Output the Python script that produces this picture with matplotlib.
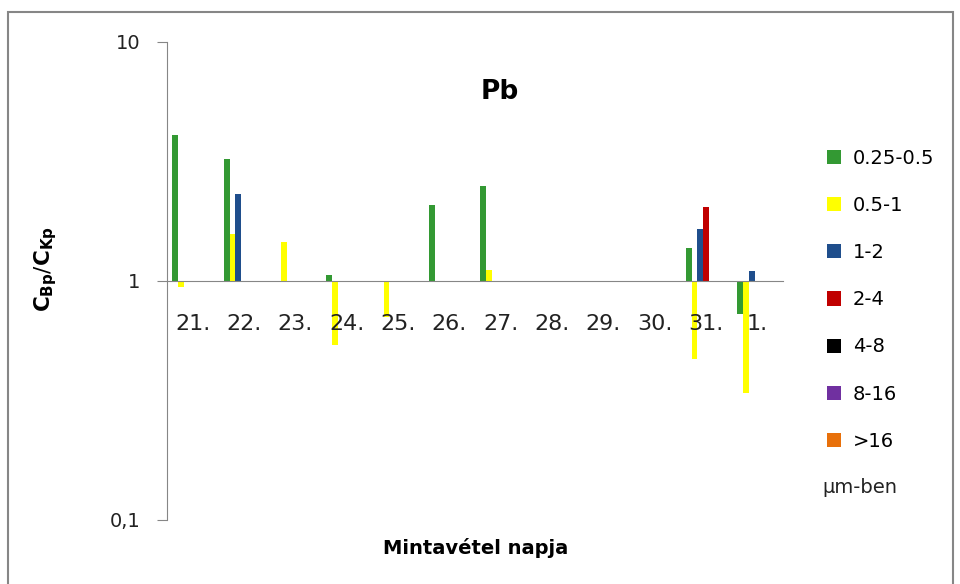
import numpy as np
import matplotlib.pyplot as plt
from matplotlib.patches import Rectangle

# adatok
napok = ['21.', '22.', '23.', '24.', '25.', '26.', '27.', '28.', '29.', '30.', '31.', '1.']
sorozatok = ['0.25-0.5', '0.5-1', '1-2', '2-4', '4-8', '8-16', '>16']
szinek = ['#339933', '#FFFF00', '#1F4E8C', '#C00000', '#000000', '#7030A0', '#E8700A']
nan = np.nan
zold = [4.08, 3.23, nan, 1.06, nan, 2.07, 2.50, nan, nan, nan, 1.37, 0.73]
sarga = [0.94, 1.57, 1.46, 0.54, 0.71, nan, 1.11, nan, nan, nan, 0.47, 0.34]
kek = [nan, 2.31, nan, nan, nan, nan, nan, nan, nan, nan, 1.65, 1.10]
piros = [nan, nan, nan, nan, nan, nan, nan, nan, nan, nan, 2.04, nan]
fekete = [nan] * 12
lila = [nan] * 12
narancs = [nan] * 12
ertekek = [zold, sarga, kek, piros, fekete, lila, narancs]

fig = plt.figure(figsize=(9.6, 5.84), dpi=100)
ax = fig.add_axes([0.174, 0.1096, 0.6417, 0.8185])

x = np.arange(len(napok))
w = 0.113
for j in range(len(sorozatok)):
    v = np.array(ertekek[j], dtype=float)
    ax.bar(x + (j - 3) * w, v - 1, bottom=1, width=w, color=szinek[j],
           label=sorozatok[j])

ax.spines['bottom'].set_position(('data', 1))
ax.spines['bottom'].set_color('#868686')
ax.spines['left'].set_color('#868686')
ax.spines['top'].set_visible(False)
ax.spines['right'].set_visible(False)

ax.set_yscale('log')
ax.set_ylim(0.1, 10)
ax.set_xlim(-0.5, len(napok) - 0.5)
ax.set_yticks([0.1, 1, 10])
ax.set_yticklabels(['0,1', '1', '10'])
ax.yaxis.set_minor_locator(plt.NullLocator())
ax.tick_params(axis='y', length=7, color='#868686', pad=12, labelsize=14,
               labelcolor='#222222')

ax.set_xticks(x)
ax.set_xticklabels(napok)
ax.tick_params(axis='x', length=0, pad=24, labelsize=16, labelcolor='#222222')

fig.text(500 / 960, 1 - 92 / 584, 'Pb', fontsize=19,
         fontweight='bold', ha='center', va='center')
fig.text(0.047, 0.54, r'$\mathbf{C}_{\mathbf{Bp}}/\mathbf{C}_{\mathbf{Kp}}$',
         rotation=90, fontsize=15.5, ha='center', va='center')
fig.text(0.495, 0.062, 'Mintavétel napja', fontsize=14, fontweight='bold',
         ha='center', va='center')

ax.legend(loc='upper left', bbox_to_anchor=(1.058, 0.793), frameon=False,
          fontsize=14, handlelength=0.75, handleheight=0.75, labelspacing=1.45,
          handletextpad=0.6, borderaxespad=0)
fig.text(0.857, 0.166, 'μm-ben', fontsize=14, ha='left', va='center',
         color='#222222')

# keret
fig.patches.append(Rectangle((8 / 960, -0.01), 945 / 960, 1 - 12 / 584 + 0.01,
                             transform=fig.transFigure, fill=False,
                             edgecolor='#868686', linewidth=1.5))

fig.savefig('out.png', dpi=100)
